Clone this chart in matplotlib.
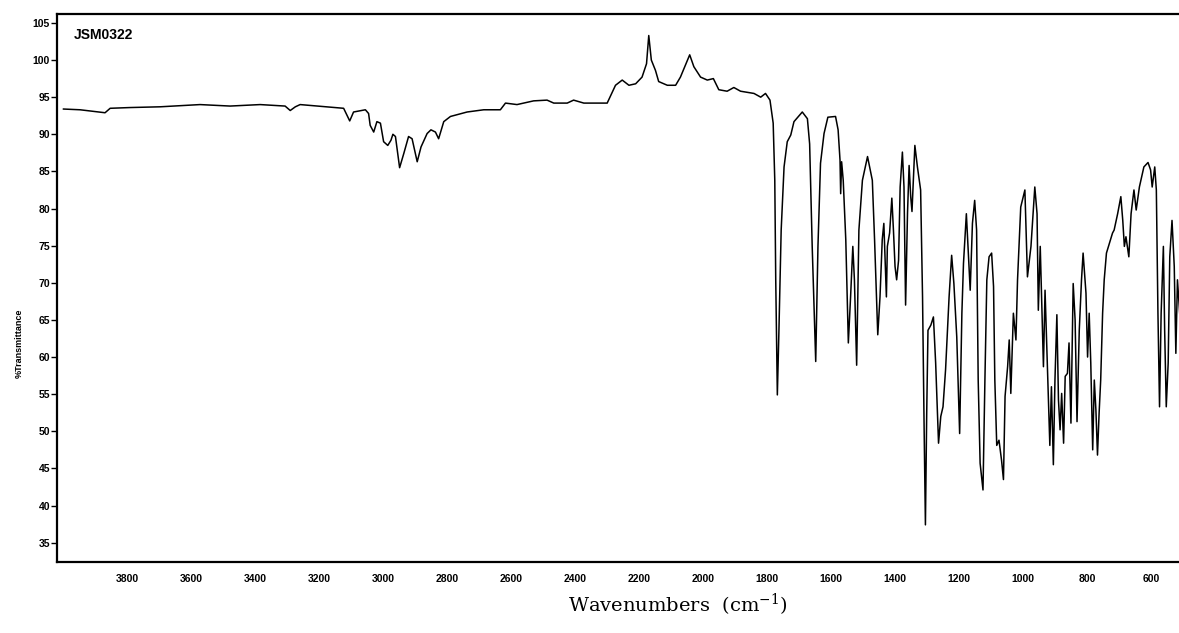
import matplotlib.pyplot as plt
import numpy as np

# IR spectrum of sample JSM0322 (wavenumber in cm-1, %T)
wavenumber = np.array([
    4000, 3948, 3870, 3854, 3792, 3698, 3573, 3479, 3385, 3307, 3291, 3275, 3260,
    3124, 3105, 3093, 3056, 3046, 3041, 3030, 3020, 3009, 2999, 2986, 2976, 2970,
    2962, 2949, 2936, 2921, 2910, 2894, 2882, 2863, 2851, 2837, 2827, 2811, 2790,
    2738, 2686, 2634, 2618, 2582, 2530, 2488, 2467, 2425, 2405, 2373, 2300,
    2274, 2253, 2232, 2211, 2191, 2177, 2170, 2162, 2149, 2139, 2112, 2086, 2071,
    2042, 2029, 2008, 1987, 1968, 1951, 1925, 1904, 1883, 1841, 1820, 1805, 1791,
    1781, 1776, 1773, 1768, 1763, 1756, 1747, 1737, 1726, 1716, 1690, 1674, 1667,
    1659, 1648, 1641, 1633, 1622, 1610, 1586, 1578, 1572, 1570, 1567, 1562, 1554,
    1546, 1539, 1532, 1527, 1520, 1513, 1502, 1486, 1471, 1464, 1454, 1447, 1440,
    1435, 1427, 1424, 1417, 1410, 1405, 1400, 1395, 1389, 1384, 1377, 1372, 1367,
    1361, 1356, 1351, 1347, 1342, 1338, 1330, 1320, 1314, 1309, 1305, 1301, 1297,
    1288, 1280, 1273, 1264, 1257, 1250, 1242, 1231, 1223, 1216, 1207, 1198,
    1191, 1186, 1177, 1172, 1165, 1158, 1151, 1145, 1140, 1134, 1125, 1119, 1113,
    1106, 1098, 1092, 1088, 1082, 1075, 1067, 1061, 1056, 1048, 1043, 1038, 1030,
    1022, 1017, 1007, 994, 986, 975, 963, 956, 952, 946, 939, 936, 931, 923, 916,
    911, 905, 900, 894, 889, 884, 879, 873, 868, 861, 856, 850, 843, 837, 831,
    824, 817, 812, 803, 798, 793, 788, 782, 777, 772, 767, 762, 757, 751, 746,
    739, 730, 720, 715, 704, 694, 688, 683, 678, 669, 662, 653, 646, 636, 622,
    609, 601, 596, 588, 583, 578, 573, 568, 561, 557, 552, 546, 541, 534, 527,
    522, 517, 510,
])

transmittance = np.array([
    93.4, 93.3, 92.9, 93.5, 93.6, 93.7, 94.0, 93.8, 94.0, 93.8, 93.2, 93.7, 94.0,
    93.5, 91.8, 93.0, 93.3, 92.8, 91.2, 90.3, 91.7, 91.5, 89.0, 88.5, 89.2, 90.0,
    89.7, 85.5, 87.4, 89.7, 89.4, 86.3, 88.3, 90.1, 90.6, 90.3, 89.4, 91.7, 92.4,
    93.0, 93.3, 93.3, 94.2, 94.0, 94.5, 94.6, 94.2, 94.2, 94.6, 94.2, 94.2,
    96.6, 97.3, 96.6, 96.8, 97.7, 99.5, 103.3, 100.0, 98.6, 97.1, 96.6, 96.6, 97.7,
    100.7, 99.1, 97.7, 97.3, 97.5, 96.0, 95.8, 96.3, 95.8, 95.5, 95.0, 95.5, 94.6,
    91.5, 83.8, 70.4, 54.9, 63.6, 77.1, 85.6, 89.0, 89.9, 91.7, 93.0, 92.1, 88.7,
    74.9, 59.4, 74.9, 86.1, 90.1, 92.3, 92.4, 90.6, 86.5, 82.0, 86.3, 83.8, 75.8,
    61.9, 68.1, 74.9, 70.4, 58.9, 77.1, 83.8, 87.0, 83.8, 75.8, 63.0, 68.1, 75.8,
    78.0, 68.1, 74.9, 76.7, 81.4, 77.1, 72.2, 70.4, 73.0, 82.9, 87.6, 82.9, 67.0,
    79.4, 85.8, 81.6, 79.6, 84.7, 88.5, 85.6, 82.5, 68.1, 50.2, 37.4, 52.4, 63.6,
    64.3, 65.4, 59.2, 48.4, 52.0, 53.3, 58.3, 68.1, 73.7, 69.9, 62.7, 49.7,
    65.9, 72.6, 79.3, 74.9, 69.0, 78.0, 81.1, 77.1, 56.9, 45.7, 42.1, 56.9, 70.4,
    73.5, 74.0, 69.5, 56.9, 48.1, 48.8, 46.1, 43.5, 54.7, 58.7, 62.3, 55.1, 65.9,
    62.3, 70.4, 80.2, 82.5, 70.8, 74.9, 82.9, 79.3, 66.3, 74.9, 63.2, 58.7, 69.0, 57.8, 48.1,
    56.0, 45.5, 56.9, 65.7, 54.2, 50.2, 55.1, 48.4, 57.4, 57.8, 61.9, 51.1, 69.9, 65.0, 51.3,
    63.6, 70.4, 74.0, 68.6, 60.0, 65.9, 59.2, 47.5, 56.9, 52.9, 46.8, 52.4, 56.9, 65.9, 70.4,
    74.0, 75.3, 76.7, 77.1, 79.3, 81.6, 78.4, 74.9, 76.2, 73.5, 79.3, 82.5, 79.8, 82.9, 85.6,
    86.2, 85.2, 82.9, 85.6, 82.5, 65.9, 53.3, 65.9, 74.9, 63.6, 53.3, 59.2, 73.5, 78.4, 72.2,
    60.5, 70.4, 65.9,
])

x_ticks = [3800, 3600, 3400, 3200, 3000, 2800, 2600, 2400, 2200, 2000,
           1800, 1600, 1400, 1200, 1000, 800, 600]
y_ticks = list(range(35, 110, 5))

sans = "Liberation Sans"

fig = plt.figure(figsize=(11.79, 6.33), dpi=100)
ax = fig.add_axes([0.0484, 0.1122, 0.9530, 0.8657])

ax.plot(wavenumber, transmittance, color="black", linewidth=1.1)

ax.set_xlim(4020, 507)
ax.set_ylim(32.4, 106.2)

ax.set_xticks(x_ticks)
ax.set_xticklabels([str(t) for t in x_ticks], fontsize=7.5,
                   fontweight="bold", family=sans)
ax.set_yticks(y_ticks)
ax.set_yticklabels([str(t) for t in y_ticks], fontsize=7.5,
                   fontweight="bold", family=sans)
ax.tick_params(axis="x", length=0, pad=9)
ax.tick_params(axis="y", direction="out", length=4, width=1, pad=1)

for side in ["left", "bottom", "top"]:
    ax.spines[side].set_linewidth(1.6)
ax.spines["right"].set_visible(False)

ax.text(0.015, 0.975, "JSM0322", transform=ax.transAxes, ha="left", va="top",
        fontsize=10, fontweight="bold", family=sans)

fig.text(0.016, 0.458, "%Transmittance", rotation=90, ha="center", va="center",
         fontsize=6.5, fontweight="bold", family=sans)
fig.text(0.575, 0.045, "Wavenumbers  (cm$^{\\mathregular{-1}}$)",
         ha="center", va="center", fontsize=14, family="DejaVu Serif")

fig.savefig("out.png", dpi=100)
